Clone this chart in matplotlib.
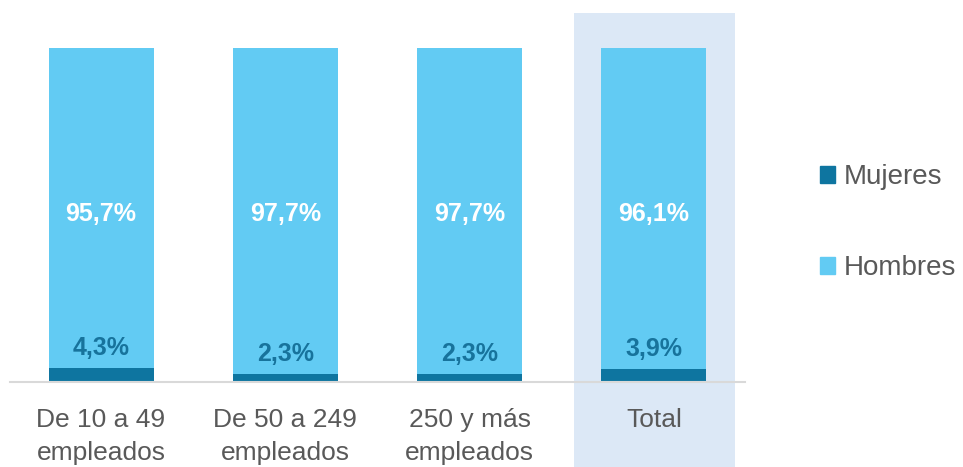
import matplotlib
matplotlib.use("Agg")
import matplotlib.pyplot as plt
import matplotlib.patches as mpatches
import matplotlib.transforms as mtransforms
import numpy as np

CATEGORIES = ["De 10 a 49\nempleados", "De 50 a 249\nempleados", "250 y más\nempleados", "Total"]
MUJERES = [4.3, 2.3, 2.3, 3.9]
HOMBRES = [95.7, 97.7, 97.7, 96.1]

C_MUJ = "#0E75A0"
C_HOM = "#62CBF3"
C_HIGHLIGHT = "#DCE8F6"
C_TEXT = "#595959"

plt.rcParams["font.family"] = ["Liberation Sans", "DejaVu Sans"]

fig = plt.figure(figsize=(9.63, 4.67), dpi=100)
ax = fig.add_axes([10 / 963, 85 / 467, 735 / 963, 369 / 467])

x = np.arange(len(CATEGORIES))
muj = np.array(MUJERES) / 100
hom = np.array(HOMBRES) / 100

# highlight band behind "Total"
trans = mtransforms.blended_transform_factory(ax.transData, fig.transFigure)
ax.add_patch(mpatches.Rectangle((x[-1] - 0.435, 0), 0.875, 0.972, transform=trans,
                                facecolor=C_HIGHLIGHT, edgecolor="none", clip_on=False, zorder=0))

ax.bar(x, muj, width=0.57, color=C_MUJ, zorder=2, label="Mujeres")
ax.bar(x, hom, width=0.57, bottom=muj, color=C_HOM, zorder=2, label="Hombres")

for xi, m, h in zip(x, MUJERES, HOMBRES):
    ax.text(xi, 0.502, f"{h:.1f}%".replace(".", ","), ha="center", va="center",
            color="white", fontsize=18, fontweight="bold", zorder=3)
    ax.text(xi, m / 100 + 0.06, f"{m:.1f}%".replace(".", ","), ha="center", va="center",
            color="#17739C", fontsize=18, fontweight="bold", zorder=3)

ax.set_xlim(-0.494, 3.494)
ax.set_ylim(0, 1.105)
ax.set_yticks([])
ax.set_xticks(x)
ax.set_xticklabels(CATEGORIES, fontsize=19, color=C_TEXT, linespacing=1.45)
ax.tick_params(axis="x", length=0, pad=19)
for side in ["top", "right", "left"]:
    ax.spines[side].set_visible(False)
ax.spines["bottom"].set_color("#D9D9D9")
ax.spines["bottom"].set_linewidth(1.5)
ax.patch.set_alpha(0)

handles = [mpatches.Patch(color=C_MUJ, label="Mujeres"), mpatches.Patch(color=C_HOM, label="Hombres")]
fig.legend(handles=handles, loc="center left", bbox_to_anchor=(0.8515, 0.523), frameon=False,
           fontsize=20, labelcolor=C_TEXT, handlelength=0.55, handleheight=0.55,
           handletextpad=0.3, labelspacing=2.35, borderpad=0, borderaxespad=0)

fig.savefig("out.png", dpi=100, facecolor="white")
